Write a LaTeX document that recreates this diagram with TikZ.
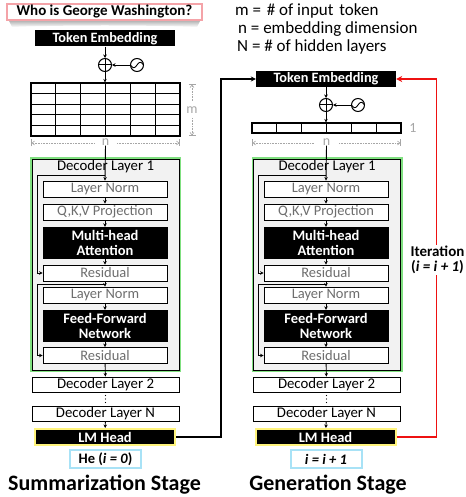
\documentclass[tikz,border=0pt]{standalone}
\usepackage{fontspec}
\setmainfont{Carlito}
\usetikzlibrary{arrows.meta,calc}
\definecolor{pinkb}{HTML}{F4A3A8}
\definecolor{greenb}{HTML}{80E080}
\definecolor{yellowb}{HTML}{FFF47C}
\definecolor{blueb}{HTML}{A8E2F6}
\definecolor{boxgray}{HTML}{F2F2F2}
\definecolor{txtgray}{HTML}{6E6E6E}
\definecolor{dimgray}{HTML}{A6A6A6}
\definecolor{iterred}{HTML}{EE1111}
\newcommand\fsz[1]{\fontsize{#1}{#1}\selectfont}
\tikzset{
  arr/.style={line width=0.9pt, -{Stealth[length=3.5pt,width=3.5pt]}},
  link/.style={line width=1.1pt, -{Stealth[length=5pt,width=5pt]}},
  redlink/.style={line width=1.8pt, draw=iterred, -{Stealth[length=6pt,width=6pt]}},
  sub/.style={draw=black, line width=0.9pt, fill=white, text=txtgray, inner sep=0pt, minimum width=124pt, minimum height=16pt, font=\fsz{14.5}},
  blk/.style={draw=black, fill=black, text=white, inner sep=0pt, minimum width=124pt, minimum height=31pt, font=\bfseries\fontsize{14.5}{15}\selectfont, align=center},
  decbox/.style={draw=black, line width=0.9pt, fill=white, inner sep=0pt, minimum width=147pt, minimum height=15pt, font=\fsz{14.8}},
  lmhead/.style={draw=yellowb, line width=2pt, fill=black, text=white, inner sep=0pt, minimum width=140pt, minimum height=16pt, font=\bfseries\fsz{14.5}},
  outbox/.style={draw=blueb, line width=2pt, fill=white, inner sep=0pt, minimum height=18pt, font=\bfseries\fsz{14.5}},
  temb/.style={fill=black, text=white, inner sep=0pt, minimum width=140pt, minimum height=16pt, font=\bfseries\fsz{14.3}},
  layer/.style={draw=black, line width=0.9pt, fill=boxgray, inner sep=0pt, minimum width=147pt, minimum height=211pt, preaction={draw=greenb, line width=4pt}},
  opc/.style={circle, draw=black, line width=1pt, minimum size=13pt, inner sep=0pt},
  gridbox/.style={draw=black, line width=1.1pt, inner sep=0pt},
  dim/.style={draw=dimgray, line width=0.6pt, densely dotted},
  dimstart/.style={{Bar[width=7pt]Straight Barb[length=2.5pt,width=4pt]}-},
  dimend/.style={-{Straight Barb[length=2.5pt,width=4pt]Bar[width=7pt]}},
  dimlbl/.style={text=dimgray, inner sep=0pt, font=\fsz{14}},
  lbl/.style={inner sep=0pt, font=\fsz{14.8}},
  legend/.style={anchor=west, inner sep=0pt, font=\fsz{17}},
  stage/.style={font=\bfseries\fsz{22}, inner sep=0pt},
  qbox/.style={draw=pinkb, line width=1.6pt, fill=white, inner sep=0pt, minimum width=195pt, minimum height=16pt, font=\bfseries\fsz{15}},
}
\begin{document}
\begin{tikzpicture}[x=1pt,y=-1pt]
\useasboundingbox (0,0) rectangle (465,497);

% ---------- legend ----------
\node[legend] (lg1) at (235,11) {m =\hspace{2pt} \# of input\hspace{2pt} token};
\node[legend] (lg2) at (238,29) {n = embedding dimension};
\node[legend] (lg3) at (237,47) {N = \# of hidden layers};

% ---------- question ----------
\shade[top color=gray!75, bottom color=white] (8,19) -- (201,19) -- (197,27) .. controls (150,25) and (60,25) .. (12,27) -- cycle;
\node[qbox] (q) at (104.5,12) {Who is George Washington?};

% ================= LEFT: summarization =================
\node[temb] (te1) at (105,38.5) {Token Embedding};
\node[opc] (p1) at (105,65) {};
\draw[line width=1pt] (p1.north) -- (p1.south) (p1.west) -- (p1.east);
\node[opc] (s1) at (137,65) {};
\draw[line width=0.9pt, shift={(s1.center)}] plot[domain=-6.5:6.5, samples=30, smooth] (\x, {-2.6*sin(\x*180/6.5)});
\draw[arr] (te1) -- (p1);
\draw[arr] (s1) -- (p1);

\node[gridbox, minimum width=149pt, minimum height=53pt] (g1) at (105.5,109.5) {};
\foreach \i in {1,...,5} {
  \draw[line width=1.1pt] ($(g1.north west)!\i/6!(g1.north east)$) -- ($(g1.south west)!\i/6!(g1.south east)$);
  \draw[line width=1.1pt] ($(g1.north west)!\i/5!(g1.south west)$) -- ($(g1.north east)!\i/5!(g1.south east)$);
}
\draw[arr] (p1) -- (p1 |- g1.north);

\draw[dim, dimstart] (192,84) -- (192,102);
\node[dimlbl] (m1) at (192,110) {m};
\draw[dim, dimend] (192,118) -- (192,136);
\draw[dim, dimstart] (31,143) -- (94,143);
\node[dimlbl] (n1) at (105.5,142) {n};
\draw[dim, dimend] (117,143) -- (180,143);

\node[layer] (L1) at (105.5,264.5) {};
\node[lbl] (d1t) at (105.5,167) {Decoder Layer 1};
\node[sub] (ln1) at (105,189) {Layer Norm};
\node[sub] (qkv1) at (105,212) {Q,K,V Projection};
\node[blk] (mha1) at (105,242.5) {Multi-head\\Attention};
\node[sub] (rs1) at (105,273) {Residual};
\node[sub] (ln1b) at (105,295) {Layer Norm};
\node[blk] (ffn1) at (105,325.5) {Feed-Forward\\Network};
\node[sub] (rs1b) at (105,355.5) {Residual};
\node[decbox] (d2a) at (105.5,384.5) {Decoder Layer 2};
\fill (105.5,395.5) circle (0.7) (105.5,399) circle (0.7) (105.5,402.5) circle (0.7);
\node[decbox] (dNa) at (105.5,413.5) {Decoder Layer N};
\node[lmhead] (lm1) at (105,437) {LM Head};
\node[outbox, minimum width=71pt] (o1) at (105.5,459) {He (\textit{i = 0})};
\node[stage] (t1) at (104.5,485) {Summarization Stage};

\coordinate (ja1) at (105,175);
\coordinate (jb1) at (105,284);
\draw[arr] (n1.south) -- (ln1.north);
\draw[arr] (ln1) -- (qkv1);
\draw[arr] (qkv1) -- (mha1);
\draw[arr] (mha1) -- (rs1);
\draw[arr] (rs1) -- (ln1b);
\draw[arr] (ln1b) -- (ffn1);
\draw[arr] (ffn1) -- (rs1b);
\draw[arr] (rs1b) -- (d2a);
\draw[arr] (dNa) -- (lm1);
\draw[arr] (ja1) -- ++(-68,0) |- (rs1.west);
\draw[arr] (jb1) -- ++(-68,0) |- (rs1b.west);

% ================= RIGHT: generation =================
\node[temb] (te2) at (326,79) {Token Embedding};
\node[opc] (p2) at (326,105) {};
\draw[line width=1pt] (p2.north) -- (p2.south) (p2.west) -- (p2.east);
\node[opc] (s2) at (358,105) {};
\draw[line width=0.9pt, shift={(s2.center)}] plot[domain=-6.5:6.5, samples=30, smooth] (\x, {-2.6*sin(\x*180/6.5)});
\draw[arr] (te2) -- (p2);
\draw[arr] (s2) -- (p2);

\node[gridbox, minimum width=149pt, minimum height=10pt] (g2) at (326.5,128) {};
\foreach \i in {1,...,5} {
  \draw[line width=1.1pt] ($(g2.north west)!\i/6!(g2.north east)$) -- ($(g2.south west)!\i/6!(g2.south east)$);
}
\draw[arr] (p2) -- (p2 |- g2.north);
\node[dimlbl] (one) at (413,128) {1};

\draw[dim, dimstart] (252,143) -- (314,143);
\node[dimlbl] (n2) at (326.5,142) {n};
\draw[dim, dimend] (339,143) -- (401,143);

\node[layer] (L2) at (327,264.5) {};
\node[lbl] (d2t) at (327,167) {Decoder Layer 1};
\node[sub] (ln2) at (326,189) {Layer Norm};
\node[sub] (qkv2) at (326,212) {Q,K,V Projection};
\node[blk] (mha2) at (326,242.5) {Multi-head\\Attention};
\node[sub] (rs2) at (326,273) {Residual};
\node[sub] (ln2b) at (326,295) {Layer Norm};
\node[blk] (ffn2) at (326,325.5) {Feed-Forward\\Network};
\node[sub] (rs2b) at (326,355.5) {Residual};
\node[decbox] (d2b) at (326.5,384.5) {Decoder Layer 2};
\fill (326.5,395.5) circle (0.7) (326.5,399) circle (0.7) (326.5,402.5) circle (0.7);
\node[decbox] (dNb) at (326.5,413.5) {Decoder Layer N};
\node[lmhead] (lm2) at (325.5,437) {LM Head};
\node[outbox, minimum width=71pt] (o2) at (326,459) {\itshape i = i + 1};
\node[stage] (t2) at (328,485) {Generation Stage};

\coordinate (ja2) at (326,175);
\coordinate (jb2) at (326,284);
\draw[arr] (n2.south) -- (ln2.north);
\draw[arr] (ln2) -- (qkv2);
\draw[arr] (qkv2) -- (mha2);
\draw[arr] (mha2) -- (rs2);
\draw[arr] (rs2) -- (ln2b);
\draw[arr] (ln2b) -- (ffn2);
\draw[arr] (ffn2) -- (rs2b);
\draw[arr] (rs2b) -- (d2b);
\draw[arr] (dNb) -- (lm2);
\draw[arr] (ja2) -- ++(-68,0) |- (rs2.west);
\draw[arr] (jb2) -- ++(-68,0) |- (rs2b.west);

% ---------- inter-stage connectors ----------
\draw[link] (lm1.east) -- ++(45,0) |- (te2.west);
\draw[redlink] (lm2.east) -- ++(40,0) |- (te2.east);
\node[fill=white, inner sep=1pt, font=\bfseries\fontsize{15}{15.5}\selectfont, align=center] (it) at (437.5,260) {Iteration\\(\textit{i = i + 1})};
\end{tikzpicture}
\end{document}
